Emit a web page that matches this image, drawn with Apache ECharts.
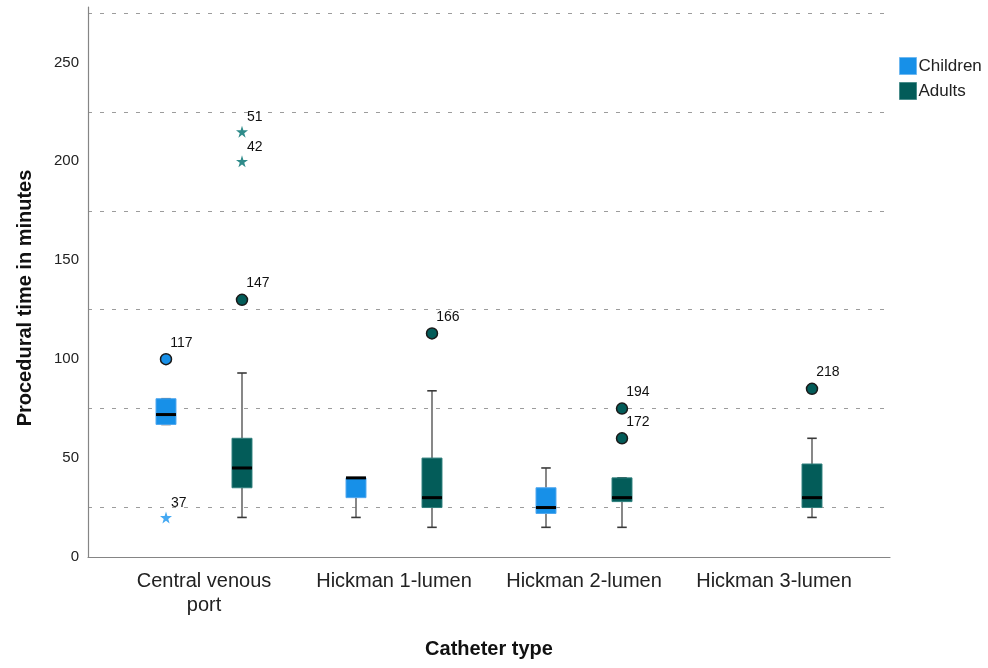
<!DOCTYPE html>
<html>
<head>
<meta charset="utf-8">
<script src="https://cdn.jsdelivr.net/npm/echarts@6/dist/echarts.min.js"></script>
<style>
html,body{margin:0;padding:0;background:#fff;}
#chart{width:988px;height:668px;}
</style>
</head>
<body>
<div id="chart"></div>
<script>
// ---- data ----
const categories = ['Central venous\nport', 'Hickman 1-lumen', 'Hickman 2-lumen', 'Hickman 3-lumen'];
// [categoryIndex, min, q1, median, q3, max]
const childrenBoxes = [
  [0, 67, 67, 72, 80, 80],
  [1, 20, 30, 40, 40, 40],
  [2, 15, 22, 25, 35, 45]
];
const adultsBoxes = [
  [0, 20, 35, 45, 60, 93],
  [1, 15, 25, 30, 50, 84],
  [2, 15, 28, 30, 40, 40],
  [3, 20, 25, 30, 47, 60]
];
// outliers: [categoryIndex, value, caseLabel]
const childrenOutliers = [[0, 100, '117']];
const childrenExtremes = [[0, 20, '37']];
const adultsOutliers = [[0, 130, '147'], [1, 113, '166'], [2, 75, '194'], [2, 60, '172'], [3, 85, '218']];
const adultsExtremes = [[0, 200, '42'], [0, 215, '51']];
const yTicks = { min: 0, max: 278, step: 25, labelStep: 50 };

// ---- styles ----
const FONT = "'Liberation Sans', Arial, sans-serif";
const childColor = '#1790e8';
const adultColor = '#035c59';
const childStar = '#45a9f2';
const adultStar = '#2f8b8a';
const starPath = 'path://M50,0 L61,35 L98,35 L68,57 L79,91 L50,70 L21,91 L32,57 L2,35 L39,35 Z';

function boxRender(fill, border) {
  return function (params, api) {
    const x = api.value(0);
    const pMin = api.coord([x, api.value(1)]);
    const pQ1 = api.coord([x, api.value(2)]);
    const pMed = api.coord([x, api.value(3)]);
    const pQ3 = api.coord([x, api.value(4)]);
    const pMax = api.coord([x, api.value(5)]);
    const band = api.size([1, 0])[0];
    const w = band * 0.105;
    const cw = band * 0.05;
    const cx = pMed[0];
    const whisker = { stroke: '#6a6a6a', lineWidth: 1.6 };
    const cap = { stroke: '#3a3a3a', lineWidth: 1.6 };
    return {
      type: 'group',
      children: [
        { type: 'line', shape: { x1: cx, y1: pMax[1], x2: cx, y2: pQ3[1] }, style: whisker },
        { type: 'line', shape: { x1: cx, y1: pQ1[1], x2: cx, y2: pMin[1] }, style: whisker },
        { type: 'line', shape: { x1: cx - cw / 2, y1: pMax[1], x2: cx + cw / 2, y2: pMax[1] }, style: cap },
        { type: 'line', shape: { x1: cx - cw / 2, y1: pMin[1], x2: cx + cw / 2, y2: pMin[1] }, style: cap },
        { type: 'rect', shape: { x: cx - w / 2, y: pQ3[1], width: w, height: pQ1[1] - pQ3[1] },
          style: { fill: fill, stroke: border, lineWidth: 1 } },
        { type: 'line', shape: { x1: cx - w / 2, y1: pMed[1], x2: cx + w / 2, y2: pMed[1] },
          style: { stroke: '#000', lineWidth: 3 } }
      ]
    };
  };
}

function outlierSeries(name, data, gridIdx, symbol, size, color, border, pos) {
  return {
    name: name,
    type: 'scatter',
    xAxisIndex: gridIdx, yAxisIndex: gridIdx,
    data: data.map(d => ({ value: [d[0], d[1]], label: { formatter: d[2] } })),
    symbol: symbol,
    symbolSize: size,
    itemStyle: { color: color, borderColor: border, borderWidth: border ? 1.5 : 0, opacity: 1 },
    label: { show: true, position: pos, align: 'left', verticalAlign: 'top',
      fontFamily: FONT, fontSize: 14, color: '#111' },
    emphasis: { disabled: true },
    z: 5
  };
}

const chart = echarts.init(document.getElementById('chart'), null, { renderer: 'canvas' });
const plotTop = 7, plotH = 550;
chart.setOption({
  animation: false,
  backgroundColor: '#fff',
  textStyle: { fontFamily: FONT },
  legend: {
    orient: 'vertical', left: 894, top: 52,
    itemWidth: 17, itemHeight: 17, itemGap: 7, icon: 'rect',
    textStyle: { fontFamily: FONT, fontSize: 17, color: '#222', padding: [0, 0, 0, -3] },
    data: [
      { name: 'Children', itemStyle: { color: childColor, borderColor: '#6fb8f0', borderWidth: 1 } },
      { name: 'Adults', itemStyle: { color: adultColor, borderColor: '#4a8d8b', borderWidth: 1 } }
    ]
  },
  grid: [
    { left: 88, top: plotTop, width: 802, height: plotH },      // frame
    { left: 71, top: plotTop, width: 760, height: plotH },      // children
    { left: 147, top: plotTop, width: 760, height: plotH },     // adults
    { left: 109, top: 39, width: 760, height: 518 }             // labels / titles
  ],
  xAxis: [
    { gridIndex: 0, type: 'value', min: 0, max: 1,
      axisLine: { show: true, lineStyle: { color: '#858585', width: 1.2 } },
      axisTick: { show: false }, axisLabel: { show: false }, splitLine: { show: false } },
    { gridIndex: 1, type: 'category', data: categories, show: false },
    { gridIndex: 2, type: 'category', data: categories, show: false },
    { gridIndex: 3, type: 'category', data: categories,
      axisLine: { show: false }, axisTick: { show: false },
      axisLabel: { fontFamily: FONT, fontSize: 20, color: '#222', margin: 12, lineHeight: 24, interval: 0 },
      name: 'Catheter type', nameLocation: 'middle', nameGap: 82,
      nameTextStyle: { fontFamily: FONT, fontSize: 20, fontWeight: 'bold', color: '#111' } }
  ],
  yAxis: [
    { gridIndex: 0, type: 'value', min: yTicks.min, max: yTicks.max, interval: yTicks.step,
      axisLine: { show: true, lineStyle: { color: '#858585', width: 1.2 } },
      axisTick: { show: false },
      axisLabel: { fontFamily: FONT, fontSize: 15, color: '#222', margin: 9,
        formatter: v => (v % yTicks.labelStep === 0 ? String(v) : '') },
      splitLine: { show: true, lineStyle: { color: ['rgba(0,0,0,0)', '#9c9c9c'], type: [4, 8], width: 1 } } },
    { gridIndex: 1, type: 'value', min: yTicks.min, max: yTicks.max, show: false },
    { gridIndex: 2, type: 'value', min: yTicks.min, max: yTicks.max, show: false },
    { gridIndex: 3, type: 'value', min: 0, max: 1,
      axisLine: { show: false }, axisTick: { show: false }, axisLabel: { show: false }, splitLine: { show: false },
      name: 'Procedural time in minutes', nameLocation: 'middle', nameGap: 74,
      nameTextStyle: { fontFamily: FONT, fontSize: 20, fontWeight: 'bold', color: '#111' } }
  ],
  series: [
    { name: 'Children', type: 'custom', xAxisIndex: 1, yAxisIndex: 1,
      itemStyle: { color: childColor },
      encode: { x: 0, y: [1, 2, 3, 4, 5] },
      data: childrenBoxes, renderItem: boxRender(childColor, '#4fa6ee'), z: 3 },
    { name: 'Adults', type: 'custom', xAxisIndex: 2, yAxisIndex: 2,
      itemStyle: { color: adultColor },
      encode: { x: 0, y: [1, 2, 3, 4, 5] },
      data: adultsBoxes, renderItem: boxRender(adultColor, '#2f7f7c'), z: 3 },
    outlierSeries('Children', childrenOutliers, 1, 'circle', 11, childColor, '#1a1a1a', [10.5, -17]),
    outlierSeries('Children', childrenExtremes, 1, starPath, 12, childStar, null, [11, -15]),
    outlierSeries('Adults', adultsOutliers, 2, 'circle', 11, adultColor, '#1a1a1a', [10.5, -17]),
    outlierSeries('Adults', adultsExtremes, 2, starPath, 12, adultStar, null, [11, -15])
  ]
});
</script>
</body>
</html>
